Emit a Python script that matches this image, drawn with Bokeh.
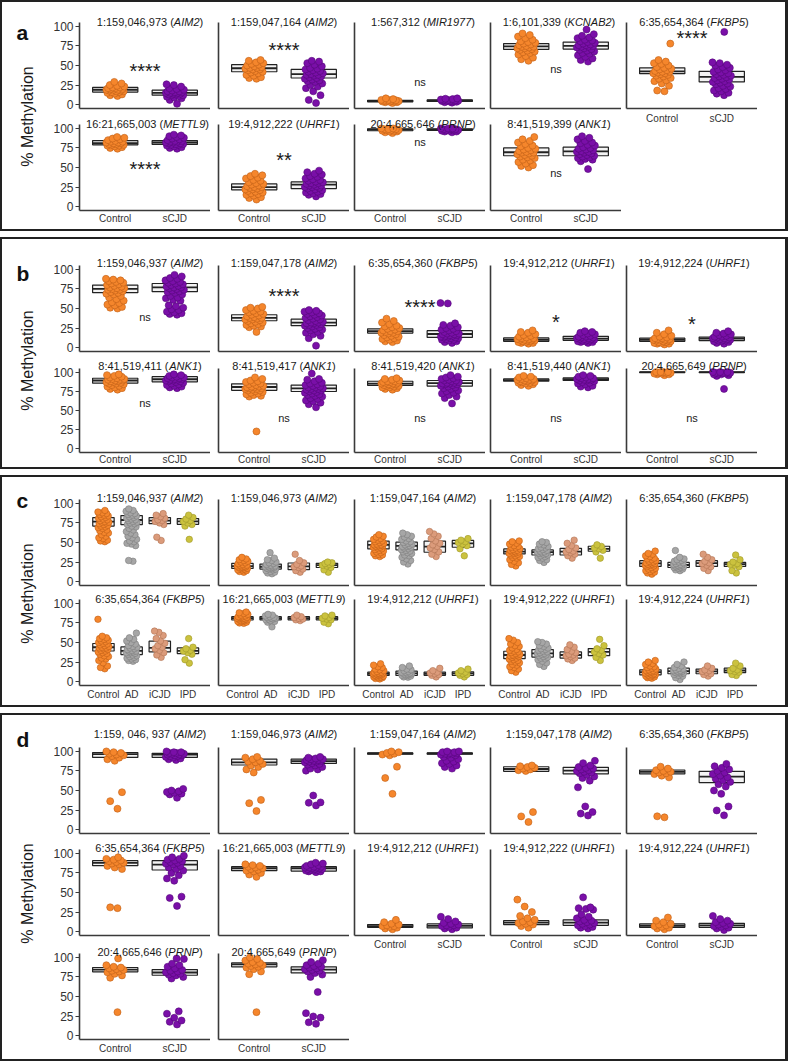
import math
from bokeh.plotting import figure
from bokeh.models import Range1d, FixedTicker, Label, Spacer, ColumnDataSource, GlobalInlineStyleSheet
from bokeh.layouts import column, row
from bokeh.embed import file_html
from bokeh.resources import INLINE

# ---------------- DATA ----------------
CATS2 = ["Control", "sCJD"]
CATS4 = ["Control", "AD", "iCJD", "IPD"]

# Panel a
A_LOCI = ["1:159,046,973", "1:159,047,164", "1:567,312", "1:6,101,339", "6:35,654,364",
          "16:21,665,003", "19:4,912,222", "20:4,665,646", "8:41,519,399"]
A_GENES = ["AIM2", "AIM2", "MIR1977", "KCNAB2", "FKBP5", "METTL9", "UHRF1", "PRNP", "ANK1"]
A_SIG = ["****", "****", "ns", "ns", "****", "****", "**", "ns", "ns"]
A_SIG_Y = [46, 73.5, 27, 43.5, 88.5, 52, 63, 81, 42]
A_CTRL_BOX = [[16, 19, 22], [42, 46.5, 51], [3.5, 4.5, 5.5], [70.5, 74.5, 78], [39.5, 42.5, 47],
              [79, 81, 84.5], [21.5, 25, 29], [97, 98.5, 99.5], [65, 69.5, 75]]
A_SCJD_BOX = [[12, 15, 18.5], [34, 39, 45], [4, 5, 6], [71, 75, 80], [29, 35.5, 42.5],
              [79.5, 82, 84.5], [23, 28, 31.5], [97.5, 98.5, 99.5], [65, 70.5, 76]]
A_CTRL_PTS = [
    [11, 12, 13, 14, 15, 16, 16, 17, 17, 18, 18, 19, 19, 19, 20, 20, 21, 21, 22, 22, 23, 24, 25, 27, 29],
    [33, 34, 35, 37, 38, 40, 41, 42, 43, 44, 45, 45, 46, 47, 47, 48, 49, 50, 51, 52, 53, 54, 56, 57],
    [2, 3, 3, 3.5, 4, 4, 4.5, 4.5, 5, 5, 5.5, 6, 6, 7, 8],
    [56, 58, 60, 62, 64, 66, 67, 68, 69, 70, 71, 72, 72, 73, 74, 74, 75, 76, 77, 78, 79, 80, 81, 83, 85, 87, 89, 91],
    [17, 18, 24, 27, 30, 31, 33, 34, 36, 37, 38, 39, 40, 40, 41, 42, 42, 43, 44, 45, 46, 47, 48, 50, 52, 53, 55, 57, 78],
    [74, 75, 76, 77, 78, 78, 79, 79, 80, 80, 81, 81, 82, 82, 83, 83, 84, 85, 86, 87, 88, 89],
    [9, 11, 12, 14, 15, 16, 17, 18, 19, 20, 21, 22, 22, 23, 24, 25, 25, 26, 27, 28, 29, 30, 31, 33, 34, 36, 37, 39, 40, 42],
    [94, 95, 96, 96, 97, 97, 98, 98, 98, 99, 99, 99, 100, 100],
    [50, 52, 53, 55, 57, 59, 60, 62, 63, 64, 65, 66, 67, 68, 69, 69, 70, 71, 72, 73, 74, 75, 77, 78, 80, 82, 84, 86, 89],
]
A_SCJD_PTS = [
    [1, 6, 8, 9, 10, 11, 12, 12, 13, 13, 14, 14, 15, 15, 15, 16, 16, 17, 17, 18, 19, 20, 21, 23, 25, 26],
    [2, 6, 12, 17, 21, 23, 25, 27, 29, 30, 31, 32, 33, 34, 35, 36, 37, 38, 38, 39, 40, 41, 42, 43, 44, 45, 46, 47, 49, 51, 53, 55, 56],
    [2.5, 3, 3.5, 4, 4.5, 4.5, 5, 5, 5, 5.5, 5.5, 6, 6.5, 7, 7.5, 8],
    [55, 57, 59, 61, 63, 65, 66, 68, 69, 70, 71, 72, 73, 74, 74, 75, 76, 76, 77, 78, 79, 80, 81, 82, 83, 85, 86, 88, 90, 96],
    [12, 14, 15, 17, 18, 20, 21, 23, 24, 26, 27, 28, 29, 30, 31, 32, 33, 34, 35, 36, 37, 38, 39, 40, 41, 42, 44, 45, 47, 48, 50, 51, 53, 54, 93],
    [74, 75, 76, 77, 78, 79, 79, 80, 80, 81, 81, 82, 82, 83, 83, 84, 84, 85, 86, 87, 88, 89, 90, 91, 92],
    [13, 15, 16, 17, 18, 19, 20, 21, 22, 23, 24, 25, 25, 26, 27, 27, 28, 29, 30, 30, 31, 32, 33, 34, 35, 36, 38, 39, 41, 42, 44, 46],
    [95, 96, 96, 97, 97, 98, 98, 98, 99, 99, 99, 100, 100, 100],
    [48, 58, 60, 61, 62, 63, 64, 65, 66, 67, 68, 69, 70, 70, 71, 72, 73, 74, 75, 76, 78, 79, 81, 82, 84, 86, 88, 90],
]

# Panel b
B_LOCI = ["1:159,046,937", "1:159,047,178", "6:35,654,360", "19:4,912,212", "19:4,912,224",
          "8:41,519,411", "8:41,519,417", "8:41,519,420", "8:41,519,440", "20:4,665,649"]
B_GENES = ["AIM2", "AIM2", "FKBP5", "UHRF1", "UHRF1", "ANK1", "ANK1", "ANK1", "ANK1", "PRNP"]
B_SIG = ["ns", "****", "****", "*", "*", "ns", "ns", "ns", "ns", "ns"]
B_SIG_Y = [37.7, 69.5, 55.5, 35.6, 33.5, 58.5, 39, 39, 39, 39]
B_CTRL_BOX = [[70.3, 75, 80], [34.3, 38, 42], [18.6, 21, 24], [8, 10, 12.3], [8, 10, 12],
              [85.5, 89, 91.9], [76.2, 80.5, 84.7], [82.6, 85, 88], [88, 89.5, 91], [99.3, 99.8, 100]]
B_SCJD_BOX = [[71.5, 77, 82], [28, 32, 36.4], [13, 17.4, 21.6], [9.3, 11.5, 14.4], [9, 11.5, 13.5],
              [87.3, 90.6, 94], [74.6, 78.8, 83], [81.7, 85.5, 89], [89, 90.6, 92.3], [99.3, 99.8, 100]]
B_CTRL_PTS = [
    [50, 51, 52, 54, 55, 57, 58, 60, 62, 64, 66, 68, 69, 70, 71, 72, 73, 74, 74, 75, 76, 76, 77, 78, 79, 80, 81, 82, 83, 84, 85, 86, 87, 88],
    [20, 26, 27, 28, 29, 30, 31, 32, 33, 34, 35, 36, 36, 37, 38, 38, 39, 40, 41, 42, 43, 44, 45, 46, 47, 48, 50, 51, 52],
    [7, 8, 9, 10, 11, 12, 13, 14, 15, 16, 17, 18, 19, 19, 20, 21, 21, 22, 23, 24, 25, 26, 27, 28, 30, 32, 34, 37],
    [5, 6, 6, 7, 7, 8, 8, 9, 9, 10, 10, 10, 11, 11, 12, 12, 13, 14, 15, 16, 17, 19, 20, 22],
    [4, 5, 5, 6, 6, 7, 7, 8, 8, 9, 9, 10, 10, 10, 11, 11, 12, 12, 13, 14, 15, 17, 19, 22],
    [77, 78, 79, 80, 81, 82, 83, 84, 85, 85, 86, 87, 87, 88, 88, 89, 89, 90, 90, 91, 91, 92, 93, 94, 95, 96, 97],
    [22.5, 68, 69, 70, 71, 72, 73, 74, 75, 76, 76, 77, 78, 78, 79, 79, 80, 80, 81, 81, 82, 83, 84, 85, 86, 87, 88, 89, 91, 93],
    [77, 78, 79, 80, 80, 81, 82, 82, 83, 83, 84, 84, 85, 85, 86, 86, 87, 87, 88, 88, 89, 90, 91, 92],
    [82, 83, 84, 85, 86, 86, 87, 87, 88, 88, 89, 89, 90, 90, 91, 91, 92, 93, 94, 95],
    [96, 97, 97, 98, 98, 99, 99, 99, 100, 100, 100, 100],
]
B_SCJD_PTS = [
    [42, 43, 44, 45, 46, 48, 49, 51, 53, 54, 60, 61, 63, 64, 66, 68, 70, 71, 72, 73, 74, 75, 76, 77, 77, 78, 79, 80, 81, 82, 83, 84, 85, 86, 88, 89, 91, 93],
    [2.5, 12, 15, 17, 19, 20, 22, 23, 24, 25, 26, 27, 28, 29, 29, 30, 31, 31, 32, 32, 33, 34, 35, 36, 37, 38, 39, 40, 41, 42, 43, 44, 45, 46, 47, 48],
    [6, 7, 8, 9, 10, 10, 11, 12, 12, 13, 13, 14, 14, 15, 15, 16, 16, 17, 17, 18, 18, 19, 20, 21, 22, 23, 24, 25, 26, 28, 29, 31, 56.5, 57],
    [6, 7, 7, 8, 8, 9, 9, 10, 10, 11, 11, 11, 12, 12, 13, 13, 14, 14, 15, 16, 17, 18, 19, 20, 21],
    [5, 6, 7, 8, 8, 9, 9, 10, 10, 11, 11, 11, 12, 12, 13, 13, 14, 14, 15, 16, 17, 18, 19, 21],
    [79, 80, 81, 82, 83, 84, 85, 86, 87, 88, 88, 89, 89, 90, 90, 91, 91, 92, 92, 93, 93, 94, 95, 96, 97],
    [54, 58, 60, 62, 63, 65, 66, 68, 69, 70, 71, 72, 73, 74, 75, 76, 76, 77, 78, 78, 79, 80, 80, 81, 82, 83, 84, 85, 86, 88, 90, 91, 98],
    [59, 66, 68, 70, 72, 73, 75, 76, 78, 79, 80, 81, 82, 83, 84, 84, 85, 85, 86, 86, 87, 88, 89, 89, 90, 91, 92, 93, 94, 96],
    [80, 81, 82, 84, 85, 86, 87, 88, 89, 89, 90, 90, 91, 91, 92, 92, 93, 94, 95, 96],
    [78, 95, 96, 97, 97, 98, 98, 99, 99, 99, 100, 100, 100],
]

# Panel c
C_LOCI = ["1:159,046,937", "1:159,046,973", "1:159,047,164", "1:159,047,178", "6:35,654,360",
          "6:35,654,364", "16:21,665,003", "19:4,912,212", "19:4,912,222", "19:4,912,224"]
C_GENES = ["AIM2", "AIM2", "AIM2", "AIM2", "FKBP5", "FKBP5", "METTL9", "UHRF1", "UHRF1", "UHRF1"]
C_CTRL_BOX = [[71, 76.7, 81.9], [16.8, 19.9, 23.3], [41.8, 47, 51.8], [35.4, 38.4, 41.8], [19.4, 23.3, 26.7],
              [39.1, 43.9, 48.7], [78.8, 81, 83], [7.8, 10, 12], [29.3, 34, 38.8], [8.6, 12, 15.1]]
C_AD_BOX = [[72.8, 78.8, 84.5], [16, 19, 22.4], [40.6, 45.7, 50.4], [34, 37.8, 40.5], [18, 21.2, 24.5],
            [34.5, 39.2, 44.3], [79, 81, 83], [7.8, 10.5, 13.3], [31.4, 36.2, 40.9], [10, 13.3, 17.2]]
C_ICJD_BOX = [[74.1, 78, 81.9], [15.2, 19.4, 23.8], [37.5, 44.8, 51.7], [34, 38.4, 42.6], [19.4, 23.7, 26.7],
              [37.9, 43, 51.7], [79, 81, 83], [8, 10, 12], [30.1, 34, 37.9], [10, 13, 16]]
C_IPD_BOX = [[73.3, 77, 80.6], [18, 21, 23.3], [43.9, 49, 52.6], [38.8, 41.8, 45.2], [19.4, 22.4, 24.5],
             [35.8, 39.2, 43], [79, 81, 83], [8, 10.5, 12.5], [33.2, 37.9, 42.2], [11.4, 14.2, 17.2]]
C_CTRL_PTS = [
    [51, 52, 53, 55, 56, 58, 60, 62, 63, 65, 66, 68, 69, 70, 71, 72, 73, 74, 75, 76, 76, 77, 78, 79, 80, 81, 82, 83, 84, 85, 86, 87, 88, 89, 91],
    [12, 13, 14, 15, 15, 16, 17, 17, 18, 18, 19, 19, 20, 20, 21, 21, 22, 23, 24, 25, 26, 27, 28, 29, 31],
    [32, 33, 34, 35, 36, 37, 38, 39, 40, 41, 42, 43, 44, 44, 45, 46, 46, 47, 47, 48, 49, 50, 51, 52, 53, 54, 55, 57, 58, 60],
    [20, 22, 24, 26, 28, 30, 31, 32, 33, 34, 35, 36, 36, 37, 38, 38, 39, 40, 40, 41, 42, 43, 44, 45, 46, 48, 49, 51, 52],
    [9.5, 11, 12, 13, 14, 15, 16, 17, 18, 19, 20, 21, 21, 22, 22, 23, 24, 24, 25, 26, 27, 28, 29, 30, 32, 33, 35, 36, 39],
    [16.4, 18, 20, 24, 27, 29, 30, 32, 33, 35, 36, 37, 38, 39, 40, 41, 42, 43, 43, 44, 45, 46, 47, 48, 49, 50, 51, 52, 53, 54, 55, 56, 58, 79.7],
    [74.5, 75, 76, 77, 77, 78, 78, 79, 79, 80, 80, 81, 81, 81, 82, 82, 83, 83, 84, 85, 86, 87, 88, 89],
    [3.4, 4, 5, 5, 6, 6, 7, 7, 8, 8, 9, 9, 10, 10, 10, 11, 11, 12, 12, 13, 14, 15, 16, 18, 19, 21, 22.8],
    [12, 14, 16, 18, 19, 21, 22, 24, 25, 26, 27, 28, 29, 30, 31, 32, 33, 33, 34, 34, 35, 36, 37, 38, 39, 40, 41, 43, 45, 46, 48, 50, 53, 55],
    [4.3, 5, 6, 6, 7, 8, 8, 9, 9, 10, 10, 11, 11, 12, 12, 13, 13, 14, 14, 15, 16, 17, 18, 19, 20, 22, 23, 25, 27],
]
C_AD_PTS = [
    [26, 27, 46, 48, 49, 51, 52, 54, 56, 58, 60, 62, 64, 66, 68, 70, 71, 73, 74, 75, 76, 77, 78, 79, 80, 81, 82, 83, 84, 85, 86, 87, 88, 90, 91, 93],
    [10, 11, 12, 13, 14, 15, 16, 16, 17, 17, 18, 18, 19, 19, 20, 20, 21, 22, 23, 24, 25, 27, 28, 30, 37],
    [22.5, 25, 27, 29, 31, 33, 34, 36, 37, 38, 39, 40, 41, 42, 43, 44, 45, 45, 46, 47, 48, 49, 50, 51, 52, 54, 55, 57, 58, 60, 62],
    [24.5, 27, 28, 30, 31, 32, 33, 34, 35, 36, 36, 37, 38, 38, 39, 40, 41, 42, 43, 44, 45, 47, 48, 50, 51],
    [14, 15, 16, 17, 18, 18, 19, 19, 20, 20, 21, 21, 22, 22, 23, 24, 25, 26, 27, 28, 29, 31, 39.7],
    [26, 27, 28, 29, 30, 31, 32, 33, 34, 35, 36, 37, 37, 38, 39, 39, 40, 41, 42, 43, 44, 45, 46, 48, 50, 52, 54, 56, 62],
    [70, 76, 77, 78, 79, 80, 80, 81, 81, 82, 82, 83, 84, 85, 86],
    [5.6, 6, 7, 8, 8, 9, 9, 10, 10, 11, 11, 12, 12, 13, 14, 15, 16, 18, 20],
    [19.4, 22, 24, 26, 28, 29, 30, 31, 32, 33, 34, 35, 36, 36, 37, 38, 39, 40, 41, 42, 43, 45, 46, 48, 50, 51],
    [2.6, 5, 7, 8, 9, 10, 11, 11, 12, 12, 13, 13, 14, 14, 15, 16, 17, 18, 20, 22, 25],
]
C_ICJD_PTS = [
    [52.6, 56.8, 73, 75, 77, 78, 79, 81, 83, 85, 87],
    [12, 14, 16, 18, 19, 20, 22, 24, 27, 35],
    [32, 35, 38, 41, 43, 45, 47, 49, 52, 55, 58, 61, 64],
    [30, 33, 35, 37, 38, 39, 41, 43, 46, 49, 53],
    [14, 17, 19, 21, 23, 24, 26, 28, 31, 35],
    [31, 34, 37, 40, 42, 44, 46, 49, 52, 55, 59, 63, 64.6],
    [78, 79, 80, 81, 82, 83, 85],
    [6, 8, 9, 10, 11, 12, 14, 17],
    [27, 29, 30, 32, 33, 34, 35, 37, 39, 41, 44, 47],
    [7, 9, 10, 12, 13, 14, 15, 17, 20],
]
C_IPD_PTS = [
    [54, 71, 73, 75, 77, 78, 80, 82, 85],
    [12, 15, 18, 20, 21, 22, 23, 24, 25],
    [33, 42, 46, 48, 50, 51, 53, 55],
    [30, 38, 40, 42, 43, 45, 47],
    [11, 14, 19, 21, 22, 23, 25, 28, 34],
    [23.6, 28, 35, 37, 39, 40, 42, 44, 55],
    [74, 76, 79, 80, 81, 82, 84, 85],
    [6, 8, 9, 10, 11, 12, 14, 16],
    [27, 31, 34, 36, 38, 40, 42, 46, 54],
    [7.8, 9, 12, 13, 14, 15, 17, 20, 23.6],
]

# Panel d
D_LOCI = ["1:159, 046, 937", "1:159,046,973", "1:159,047,164", "1:159,047,178", "6:35,654,360",
          "6:35,654,364", "16:21,665,003", "19:4,912,212", "19:4,912,222", "19:4,912,224",
          "20:4,665,646", "20:4,665,649"]
D_GENES = ["AIM2", "AIM2", "AIM2", "AIM2", "FKBP5", "FKBP5", "METTL9", "UHRF1", "UHRF1", "UHRF1",
           "PRNP", "PRNP"]
D_CTRL_BOX = [[92.3, 96.5, 98.6], [82.6, 86, 90.2], [96.5, 97.3, 98], [74.5, 77.5, 80.4], [71.2, 74, 76.2],
              [84.3, 88, 90.7], [77.9, 81, 83], [5.5, 7, 9], [9, 11.5, 14], [5.5, 7.5, 9.8],
              [81.5, 84.5, 87.1], [87.9, 91, 93]]
D_SCJD_BOX = [[92.3, 96, 97.5], [84.6, 87.6, 90.2], [96.5, 97.3, 98], [71.2, 75.4, 79.6], [60.1, 67.7, 74.5],
              [78.8, 85.6, 90.7], [77.4, 81, 83], [4.7, 7.2, 9.8], [8, 11.5, 15], [5.5, 8, 10.6],
              [77.2, 80.7, 84.5], [80.2, 84.5, 87.9]]
D_CTRL_PTS = [
    [26.7, 36.4, 47.8, 88, 90, 92, 94, 95, 96, 97, 98, 99, 100],
    [23.7, 33.8, 38, 73, 77, 80, 82, 84, 86, 87, 88, 90, 92, 93],
    [45.7, 66, 80.4, 95, 96, 97, 98, 99, 100],
    [9.7, 16.9, 22.4, 75, 76, 77, 78, 79, 80, 81, 82],
    [15.7, 17, 66.8, 69, 71, 72, 73, 74, 75, 76, 78, 80.4],
    [30, 31, 80, 82, 84, 86, 87, 88, 89, 90, 91, 92, 93, 95],
    [70, 73, 75, 77, 78, 79, 80, 81, 82, 83, 84, 85, 86],
    [3, 4, 5, 6, 7, 7, 8, 9, 10, 12, 15],
    [5, 7, 9, 10, 11, 12, 13, 15, 17, 20, 25, 32, 40.9],
    [3, 4, 5, 6, 7, 8, 9, 10, 12, 14, 18],
    [30, 74, 77, 79, 81, 82, 83, 84, 85, 86, 87, 88, 90, 98.7],
    [30, 78.5, 82, 85, 87, 88, 89, 90, 91, 92, 93, 94, 96, 98, 100],
]
D_SCJD_PTS = [
    [40.7, 45, 46, 47, 48, 49, 50, 52, 89, 90, 91, 92, 93, 94, 94, 95, 95, 96, 96, 97, 97, 98, 98, 99, 99, 100],
    [30.9, 34.3, 34.8, 43.6, 75.4, 77, 78, 80, 82, 83, 84, 85, 86, 87, 87, 88, 88, 89, 89, 90, 90, 91, 92, 93],
    [78, 80, 82, 84, 85, 87, 88, 90, 92, 93, 95, 96, 96, 97, 97, 98, 98, 99, 99, 100, 100],
    [18, 20.5, 22.4, 29.6, 54, 62.6, 66, 68, 70, 72, 73, 74, 75, 76, 77, 78, 79, 80, 82, 85, 88],
    [18.2, 24.5, 29.6, 45.7, 50, 55, 58, 61, 63, 65, 67, 69, 71, 73, 75, 77, 79, 81, 84],
    [32.8, 43, 44.7, 65, 68, 72, 75, 78, 80, 82, 84, 86, 87, 88, 89, 90, 91, 92, 93, 95, 97],
    [76, 77, 77, 78, 78, 79, 79, 80, 80, 80, 81, 81, 82, 82, 82, 83, 83, 84, 85, 86, 87, 88],
    [3, 4, 5, 6, 7, 8, 8, 9, 10, 11, 13, 16, 19],
    [4, 5, 6, 7, 8, 9, 10, 11, 12, 13, 14, 15, 17, 19, 22, 28, 29, 30, 31, 43.8],
    [2, 4, 5, 6, 7, 8, 9, 10, 11, 12, 14, 16, 20],
    [14.2, 17.6, 19.3, 22.8, 28, 31, 73, 75, 77, 78, 79, 80, 81, 82, 83, 84, 86, 88, 90, 92, 98, 98.7],
    [15, 17, 23, 24.5, 28.7, 55.7, 75, 78, 80, 82, 83, 84, 85, 86, 87, 88, 89, 90, 92, 94, 96.5],
]

# ---------------- STYLE ----------------
FONT = "Liberation Sans"
FW, FH = 131, 86
YLO, YHI = -5, 105
PPU = FH / (YHI - YLO)
LEFTS = [32, 8, 5, 5, 5]
TITLE_DX = [5, 0, 3, 3, 2]
AXIS_COL = "#3a3a3a"
COLORS = {"Control": ("#F5862C", "#BF5F17"), "sCJD": ("#7A0FA8", "#55087A"),
          "AD": ("#A6A6A6", "#7D7D7D"), "iCJD": ("#DB9B7B", "#B27454"), "IPD": ("#CBC23E", "#9F982A")}
AW = {":": 278, ",": 278, " ": 278, "(": 333, ")": 333, "A": 667, "B": 667, "C": 722, "D": 722,
      "E": 667, "F": 611, "G": 778, "H": 722, "I": 278, "J": 500, "K": 667, "L": 556, "M": 833,
      "N": 722, "O": 778, "P": 667, "R": 722, "S": 667, "T": 611, "U": 722}


def tw(s, size):
    return sum(AW.get(ch, 556) for ch in s) * size / 1000.0


def jit(i, amp):
    return (((i + 1) * 0.6180339887) % 1.0 - 0.5) * 2 * amp


def make_cell(loc, gene, cats, boxes, pts, sig, sig_y, left, top, bottom,
              show_y, show_x, title_gap, title_dx, xstand):
    n = len(cats)
    x0, x1 = (0.4, 2.6) if n == 2 else (0.15, 4.8)
    amp = 0.16 if n == 2 else 0.2
    psize = 7 if n == 2 else 6.5
    ytop = YHI + top / PPU  # frame extends into the strip area so titles are not clipped
    p = figure(width=left + FW, height=top + FH + bottom,
               x_range=Range1d(x0, x1), y_range=Range1d(YLO, ytop),
               min_border_left=left, min_border_right=0, min_border_top=0,
               min_border_bottom=bottom, output_backend="svg",
               toolbar_location=None, tools="")
    p.outline_line_color = None
    p.grid.visible = False
    yax, xax = p.yaxis[0], p.xaxis[0]
    yax.bounds = (YLO, YHI)
    for ax in (xax, yax):
        ax.axis_line_color = AXIS_COL
        ax.axis_line_width = 1.6
        ax.minor_tick_line_color = None
        ax.major_tick_in = 0
        ax.major_label_text_font = FONT
        ax.major_label_text_color = "#333333"
    if show_y:
        yax.ticker = FixedTicker(ticks=[0, 25, 50, 75, 100])
        yax.major_tick_out = 4
        yax.major_tick_line_color = AXIS_COL
        yax.major_tick_line_width = 1.2
        yax.major_label_text_font_size = "12px"
        yax.major_label_standoff = 2
    else:
        yax.ticker = FixedTicker(ticks=[])
        yax.major_tick_out = 0
        yax.major_label_standoff = 0
    if show_x:
        xax.ticker = FixedTicker(ticks=list(range(1, n + 1)))
        xax.major_label_overrides = {i + 1: c for i, c in enumerate(cats)}
        xax.major_tick_out = 0
        xax.major_tick_line_color = None
        xax.major_label_text_font_size = "10px"
        xax.major_label_standoff = xstand
    else:
        xax.ticker = FixedTicker(ticks=[])
        xax.major_tick_out = 0
        xax.major_label_standoff = 0

    bw = 0.76
    xs = [i + 1 for i in range(n)]
    src = ColumnDataSource(dict(x=xs, q1=[b[0] for b in boxes], med=[b[1] for b in boxes],
                                q3=[b[2] for b in boxes],
                                xa=[x - bw / 2 for x in xs], xb=[x + bw / 2 for x in xs]))
    p.vbar(x="x", width=bw, bottom="q1", top="q3", source=src,
           fill_color="#F3F3F3", line_color="#222222", line_width=1.2)
    p.segment(x0="xa", x1="xb", y0="med", y1="med", source=src,
              line_color="#222222", line_width=1.8)
    for k, c in enumerate(cats):
        vals = pts[k]
        px = [k + 1 + jit(i, amp) for i in range(len(vals))]
        fc, lc = COLORS[c]
        p.scatter(x=px, y=vals, size=psize, fill_color=fc, line_color=lc, line_width=0.6)

    if sig:
        if "*" in sig:
            fs = 20
            yb = sig_y - 0.13 * fs / PPU
        else:
            fs = 11
            yb = sig_y + 0.1 * fs / PPU
        p.add_layout(Label(x=(n + 1) / 2.0, y=yb, text=sig, text_align="center",
                           text_baseline="alphabetic", text_font=FONT,
                           text_font_size="%dpx" % fs, text_color="#1a1a1a"))

    # strip title: "loc (" + italic gene + ")"
    ts = 11
    pre, suf = loc + " (", ")"
    w1, w2, w3 = tw(pre, ts), tw(gene, ts), tw(suf, ts)
    W = w1 + w2 + w3
    xc = (x0 + x1) / 2.0
    yt = YHI + title_gap / PPU
    dx = min(title_dx, FW / 2.0 - W / 2.0 - 1.5)  # keep the strip text inside the panel
    start = -W / 2.0 + dx
    for txt, off, style in ((pre, start, "normal"), (gene, start + w1, "italic"),
                            (suf, start + w1 + w2, "normal")):
        p.add_layout(Label(x=xc, y=yt, x_offset=off, text=txt, text_align="left",
                           text_baseline="alphabetic", text_font=FONT,
                           text_font_size="%dpx" % ts, text_font_style=style,
                           text_color="#1a1a1a"))
    return p


def make_gutter(letter, letter_base, ylab_c, H):
    g = figure(width=45, height=H, x_range=Range1d(0, 45), y_range=Range1d(0, H),
               min_border=0, toolbar_location=None, tools="", output_backend="svg",
               x_axis_location=None, y_axis_location=None)
    g.outline_line_color = None
    g.grid.visible = False
    g.add_layout(Label(x=14, y=H - letter_base, text=letter, text_font=FONT,
                       text_font_style="bold", text_font_size="21px",
                       text_baseline="alphabetic", text_align="left", text_color="#111111"))
    g.add_layout(Label(x=25, y=H - ylab_c, text="% Methylation", angle=math.pi / 2,
                       text_font=FONT, text_font_size="16px", text_align="center",
                       text_baseline="middle", text_color="#1a1a1a"))
    return g


def border(w, h):
    return Spacer(width=w, height=h, styles={"background-color": "#222222"})


def build_panel(cfg, cells, cats):
    top, bottom = cfg["top"], cfg["bottom"]
    it, ib = top + 2, bottom - 2
    H = ib - it
    frames = cfg["frames"]
    nrows = len(frames)
    counts = cfg["rows"]
    row_start = [it] + [f + FH + 4 for f in frames[:-1]]
    base = [sum(counts[:r]) for r in range(nrows)]
    cols = [make_gutter(cfg["key"], cfg["letter_base"] - it, cfg["ylab"] - it, H)]
    for j in range(5):
        present = [r for r in range(nrows) if j < counts[r]]
        kids = []
        last = present[-1]
        fig_bot = it
        for r in present:
            fig_top = row_start[r]
            xstand = cfg["xstand"]
            if r < last:
                fig_bot = frames[r] + FH + 4
            elif r == nrows - 1:
                fig_bot = ib
            else:
                fig_bot = frames[r] + FH + 18
                xstand = cfg["xstand_mid"]
            loc, gene, boxes, pts, sig, sig_y = cells[base[r] + j]
            kids.append(make_cell(loc, gene, cats, boxes, pts, sig, sig_y,
                                  LEFTS[j], frames[r] - fig_top, fig_bot - frames[r] - FH,
                                  j == 0, r == last, cfg["gaps"][r], TITLE_DX[j], xstand))
        if fig_bot < ib:
            kids.append(Spacer(width=LEFTS[j] + FW, height=ib - fig_bot))
        cols.append(column(*kids))
    cols.append(Spacer(width=28, height=H))
    inner = row(border(2, H), *cols, border(3, H))
    return column(border(788, 2), inner, border(788, 2))


PANEL_CFG = [
    dict(key="a", top=0, bottom=231, frames=[22, 124], gaps=[1, 1], letter_base=32, ylab=116,
         rows=[5, 4], xstand=2, xstand_mid=4),
    dict(key="b", top=237, bottom=469, frames=[265, 368], gaps=[2.5, 2], letter_base=273, ylab=360,
         rows=[5, 5], xstand=1, xstand_mid=3),
    dict(key="c", top=475, bottom=707, frames=[499, 599], gaps=[2, 0.5], letter_base=500, ylab=593,
         rows=[5, 5], xstand=3, xstand_mid=3),
    dict(key="d", top=713, bottom=1061, frames=[747, 849, 953], gaps=[14, 1.5, 1.5], letter_base=739,
         ylab=893, rows=[5, 5, 2], xstand=3, xstand_mid=3),
]

cells_a = [(A_LOCI[i], A_GENES[i], [A_CTRL_BOX[i], A_SCJD_BOX[i]], [A_CTRL_PTS[i], A_SCJD_PTS[i]],
            A_SIG[i], A_SIG_Y[i]) for i in range(len(A_LOCI))]
cells_b = [(B_LOCI[i], B_GENES[i], [B_CTRL_BOX[i], B_SCJD_BOX[i]], [B_CTRL_PTS[i], B_SCJD_PTS[i]],
            B_SIG[i], B_SIG_Y[i]) for i in range(len(B_LOCI))]
cells_c = [(C_LOCI[i], C_GENES[i], [C_CTRL_BOX[i], C_AD_BOX[i], C_ICJD_BOX[i], C_IPD_BOX[i]],
            [C_CTRL_PTS[i], C_AD_PTS[i], C_ICJD_PTS[i], C_IPD_PTS[i]], None, None)
           for i in range(len(C_LOCI))]
cells_d = [(D_LOCI[i], D_GENES[i], [D_CTRL_BOX[i], D_SCJD_BOX[i]], [D_CTRL_PTS[i], D_SCJD_PTS[i]],
            None, None) for i in range(len(D_LOCI))]

pa = build_panel(PANEL_CFG[0], cells_a, CATS2)
pb = build_panel(PANEL_CFG[1], cells_b, CATS2)
pc = build_panel(PANEL_CFG[2], cells_c, CATS4)
pd = build_panel(PANEL_CFG[3], cells_d, CATS2)

root = column(pa, Spacer(width=788, height=6), pb, Spacer(width=788, height=6), pc,
              Spacer(width=788, height=6), pd)
root.stylesheets = [GlobalInlineStyleSheet(css="html, body { margin: 0 !important; padding: 0; overflow: hidden; }")]

open("out.html", "w").write(file_html(root, INLINE))
